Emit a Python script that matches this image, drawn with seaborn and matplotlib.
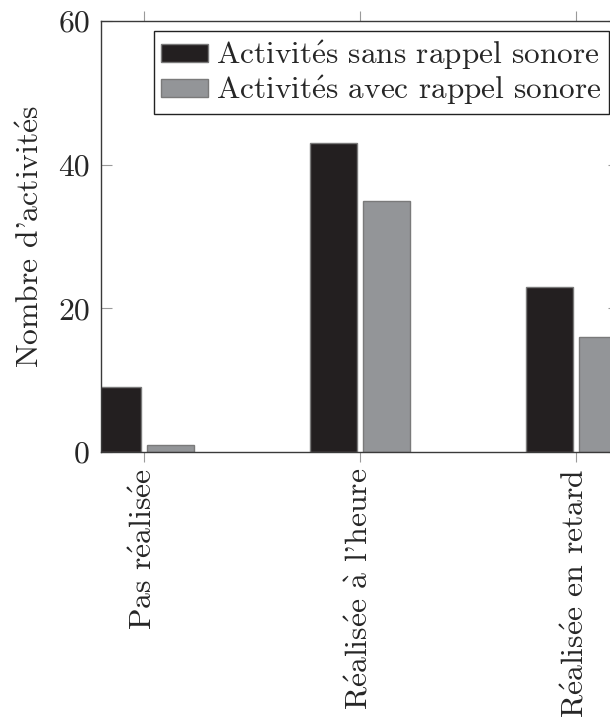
import matplotlib
matplotlib.use("Agg")
import matplotlib.pyplot as plt
import seaborn as sns
import pandas as pd

categories = ["Pas réalisée", "Réalisée à l'heure", "Réalisée en retard"]
series_names = ["Activités sans rappel sonore", "Activités avec rappel sonore"]
sans_rappel = [9, 43, 23]
avec_rappel = [1, 35, 16]
y_ticks = [0, 20, 40, 60]
y_label = "Nombre d'activités"

sns.set_style("ticks")
plt.rcParams["font.family"] = ["cmr10", "DejaVu Serif"]
plt.rcParams["mathtext.fontset"] = "cm"
plt.rcParams["axes.formatter.use_mathtext"] = True


def tex(s):
    """Render accented letters with Computer Modern accents (mathtext)."""
    return (s.replace("é", r"$\mathrm{\acute{e}}$")
             .replace("à", r"$\mathrm{\grave{a}}$"))


df = pd.DataFrame({
    "cat": categories * 2,
    "val": sans_rappel + avec_rappel,
    "serie": [series_names[0]] * 3 + [series_names[1]] * 3,
})

dark = "#231f20"
gray = "#939598"
edge = "#7a7a7a"
PX = 72 / 100  # points per pixel
FS = 22.8

fig = plt.figure(figsize=(6.10, 7.19), dpi=100)
ax = fig.add_axes([101 / 610, (719 - 452) / 719, 518 / 610, 431 / 719])

sns.barplot(data=df, x="cat", y="val", hue="serie", order=categories,
            hue_order=series_names, palette=[dark, gray], width=0.492,
            gap=0.1, edgecolor=edge, linewidth=1.0, saturation=1, ax=ax)

ax.set_xlim(-0.199, 2.199)
ax.set_ylim(0, 60)
ax.set_yticks(y_ticks)
ax.set_yticklabels([str(t) for t in y_ticks])
ax.set_xticks(range(len(categories)))
ax.set_xticklabels([tex(c) for c in categories])
ax.set_xlabel("")
ax.set_ylabel(tex(y_label), fontsize=FS, labelpad=13 * PX)

for s in ax.spines.values():
    s.set_visible(True)
    s.set_color("#3a3a3a")
    s.set_linewidth(1.0)

ax.tick_params(axis="y", direction="in", left=True, right=True,
               length=11 * PX, width=0.8, color="#9a9a9a", labelsize=FS,
               pad=11 * PX)
ax.tick_params(axis="x", direction="out", bottom=True, top=True,
               length=10 * PX, width=0.8, color="#9a9a9a", labelsize=FS,
               pad=6 * PX, labelrotation=90)
for lab in ax.get_xticklabels():
    lab.set_va("top")
    lab.set_ha("center")

handles, _ = ax.get_legend_handles_labels()
leg = ax.legend(handles, [tex(n) for n in series_names],
                loc="upper right", bbox_to_anchor=(609 / 610, 1 - 31 / 719),
                bbox_transform=fig.transFigure, borderaxespad=0,
                fontsize=22.5, frameon=True, fancybox=False, handlelength=1.5,
                handleheight=0.5, handletextpad=0.28, borderpad=0.22,
                labelspacing=0.05, title=None)
leg.get_frame().set_edgecolor("#222222")
leg.get_frame().set_linewidth(1.0)
leg.get_frame().set_alpha(1)

fig.savefig("out.png", dpi=100)
